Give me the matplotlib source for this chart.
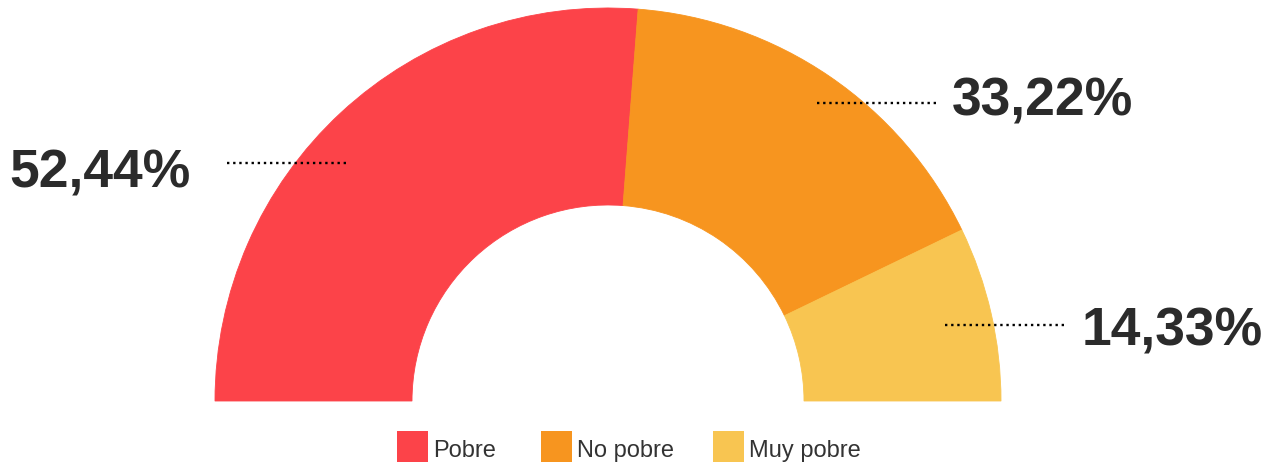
import matplotlib
matplotlib.use('Agg')
import matplotlib.pyplot as plt
from matplotlib.patches import Wedge, Rectangle

plt.rcParams['font.family'] = ['Liberation Sans', 'DejaVu Sans']

# data
categories = ['Pobre', 'No pobre', 'Muy pobre']
values = [52.44, 33.22, 14.33]
value_labels = ['52,44%', '33,22%', '14,33%']
colors = ['#FC4349', '#F7951F', '#F8C551']

W, H = 1274, 466
fig = plt.figure(figsize=(W / 100, H / 100), dpi=100)
ax = fig.add_axes([0, 0, 1, 1])
ax.set_xlim(0, W)
ax.set_ylim(0, H)
ax.axis('off')

# half donut, drawn clockwise from the left
cx, cy = 608, H - 401
r_out, r_in = 393, 196
total = sum(values)
start = 180.0
for v, c in zip(values, colors):
    span = 180.0 * v / total
    ax.add_patch(Wedge((cx, cy), r_out, start - span, start, width=r_out - r_in,
                       facecolor=c, edgecolor=c, linewidth=0.6))
    start -= span

# labels with dotted leaders (pixel positions from the top)
label_pos = [(9, 188), (952, 115), (1082, 345)]
leader_pos = [(227, 348, 163), (817, 937, 103), (945, 1065, 325)]
for txt, (tx, ty), (x0, x1, ly) in zip(value_labels, label_pos, leader_pos):
    ax.text(tx, H - ty, txt, fontsize=38.5, fontweight='bold', color='#2b2b2b',
            ha='left', va='baseline')
    ax.plot([x0, x1], [H - ly, H - ly], color='black', linewidth=1.7,
            linestyle=(0, (1, 1.6)), solid_capstyle='butt', dash_capstyle='butt')

# legend
legend_x = [397, 541, 713]
for name, c, lx in zip(categories, colors, legend_x):
    ax.add_patch(Rectangle((lx, H - 462), 31, 31, facecolor=c, edgecolor='none'))
    ax.text(lx + 36, H - 457, name, fontsize=17, color='#333333',
            ha='left', va='baseline')

fig.savefig('out.png', dpi=100)
